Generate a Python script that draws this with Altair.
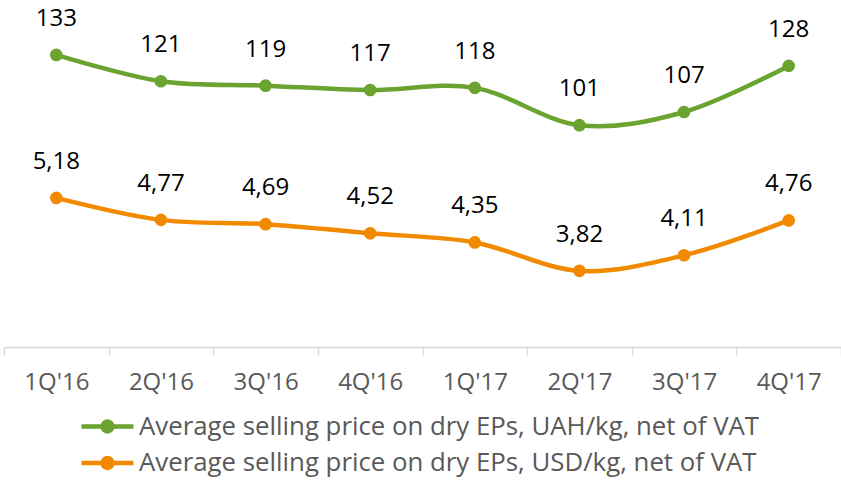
import altair as alt
import pandas as pd

quarters = ["1Q'16", "2Q'16", "3Q'16", "4Q'16", "1Q'17", "2Q'17", "3Q'17", "4Q'17"]
uah = [133, 121, 119, 117, 118, 101, 107, 128]
usd = [5.18, 4.77, 4.69, 4.52, 4.35, 3.82, 4.11, 4.76]
series = [
    "Average selling price on dry EPs, UAH/kg, net of VAT",
    "Average selling price on dry EPs, USD/kg, net of VAT",
]
colors = ["#6aa32f", "#f28a00"]

df_uah = pd.DataFrame({"q": quarters, "v": uah, "s": series[0],
                       "lab": [str(v) for v in uah]})
df_usd = pd.DataFrame({"q": quarters, "v": usd, "s": series[1],
                       "lab": [f"{v:.2f}".replace(".", ",") for v in usd]})

FONT = "Open Sans"
FS = 24

legend_path = ("M-1.733,0L1.733,0"
               "M0.333,0A0.333,0.333,0,1,1,-0.333,0A0.333,0.333,0,1,1,0.333,0"
               "M0.133,0A0.133,0.133,0,1,1,-0.133,0A0.133,0.133,0,1,1,0.133,0")

x = alt.X("q:N", sort=quarters, title=None,
          scale=alt.Scale(type="band", paddingInner=0, paddingOuter=0),
          axis=alt.Axis(labelAngle=0, tickBand="extent", domainColor="#d9d9d9",
                        tickColor="#d9d9d9", tickSize=8, tickWidth=1.5, domainWidth=1.5,
                        labelFontSize=FS, labelColor="#595959", labelFont=FONT,
                        labelPadding=15, grid=False))

color = alt.Color("s:N", scale=alt.Scale(domain=series, range=colors),
                  legend=alt.Legend(title=None, orient="none", legendX=86, legendY=409,
                                    direction="vertical", labelFontSize=25.8, labelFont=FONT,
                                    labelColor="#595959", labelLimit=0,
                                    symbolType=legend_path, symbolSize=900,
                                    symbolStrokeWidth=4.5, labelOffset=14, rowPadding=4.5))


def series_layer(df, domain):
    y = alt.Y("v:Q", scale=alt.Scale(domain=domain, nice=False, zero=False), axis=None)
    base = alt.Chart(df).encode(x=x, y=y)
    line = base.mark_line(interpolate="cardinal", strokeWidth=4.5).encode(color=color)
    pts = base.mark_circle(size=160, opacity=1).encode(color=color)
    txt = base.mark_text(dy=-36, fontSize=FS, font=FONT, color="#000000").encode(text="lab:N")
    return alt.layer(line, pts, txt)


chart = alt.layer(
    series_layer(df_uah, [0, 158]),
    series_layer(df_usd, [2.4, 8.87]),
).resolve_scale(y="independent").properties(
    width=837, height=347,
    background="white",
    autosize=alt.AutoSizeParams(type="none"),
    padding={"left": 4, "top": 0, "right": 0, "bottom": 137},
).configure_view(stroke="transparent", strokeWidth=0)

chart.save("out.html", embed_options={"renderer": "svg", "actions": False})
